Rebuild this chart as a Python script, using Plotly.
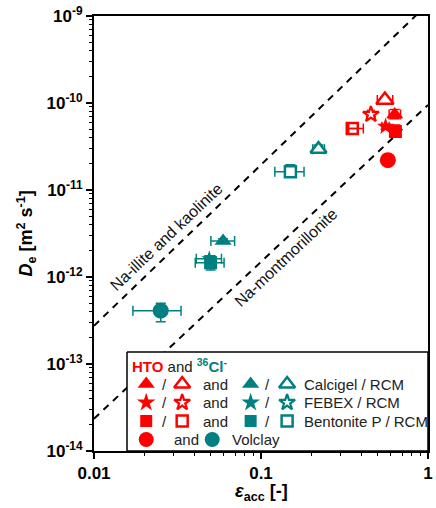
import plotly.graph_objects as go

RED = "#FF0000"
TEAL = "#008080"
FONT = "Liberation Sans, Arial, sans-serif"

# ---- data (eps_acc, De, eps_lo, eps_hi, De_lo, De_hi) ----
# HTO (red)
hto_calcigel_eps = [0.632];  hto_calcigel_De = [7.4e-11]
hto_calcigel_eps_lo = [0.585]; hto_calcigel_eps_hi = [0.685]
hto_calcigel_De_lo = [6.6e-11]; hto_calcigel_De_hi = [8.4e-11]

hto_calcigel_rcm_eps = [0.552]; hto_calcigel_rcm_De = [1.08e-10]
hto_calcigel_rcm_eps_lo = [0.497]; hto_calcigel_rcm_eps_hi = [0.615]
hto_calcigel_rcm_De_lo = [1.0e-10]; hto_calcigel_rcm_De_hi = [1.16e-10]

hto_febex_eps = [0.557]; hto_febex_De = [5.35e-11]
hto_febex_eps_lo = [0.53]; hto_febex_eps_hi = [0.585]
hto_febex_De_lo = [5.0e-11]; hto_febex_De_hi = [5.7e-11]

hto_febex_rcm_eps = [0.455]; hto_febex_rcm_De = [7.4e-11]
hto_febex_rcm_eps_lo = [0.435]; hto_febex_rcm_eps_hi = [0.475]
hto_febex_rcm_De_lo = [7.0e-11]; hto_febex_rcm_De_hi = [7.8e-11]

hto_bentp_eps = [0.638]; hto_bentp_De = [4.7e-11]
hto_bentp_eps_lo = [0.605]; hto_bentp_eps_hi = [0.672]
hto_bentp_De_lo = [4.1e-11]; hto_bentp_De_hi = [5.6e-11]

hto_bentp_rcm_eps = [0.352]; hto_bentp_rcm_De = [5.1e-11]
hto_bentp_rcm_eps_lo = [0.335]; hto_bentp_rcm_eps_hi = [0.41]
hto_bentp_rcm_De_lo = [5.1e-11]; hto_bentp_rcm_De_hi = [5.1e-11]

hto_volclay_eps = [0.575]; hto_volclay_De = [2.2e-11]
hto_volclay_eps_lo = [0.555]; hto_volclay_eps_hi = [0.595]
hto_volclay_De_lo = [2.05e-11]; hto_volclay_De_hi = [2.35e-11]

# 36Cl- (teal)
cl_calcigel_eps = [0.0593]; cl_calcigel_De = [2.6e-12]
cl_calcigel_eps_lo = [0.0501]; cl_calcigel_eps_hi = [0.0695]
cl_calcigel_De_lo = [2.45e-12]; cl_calcigel_De_hi = [2.75e-12]

cl_calcigel_rcm_eps = [0.221]; cl_calcigel_rcm_De = [2.95e-11]
cl_calcigel_rcm_eps_lo = [0.204]; cl_calcigel_rcm_eps_hi = [0.240]
cl_calcigel_rcm_De_lo = [2.65e-11]; cl_calcigel_rcm_De_hi = [3.3e-11]

cl_febex_eps = [0.049]; cl_febex_De = [1.62e-12]
cl_febex_eps_lo = [0.041]; cl_febex_eps_hi = [0.058]
cl_febex_De_lo = [1.55e-12]; cl_febex_De_hi = [1.75e-12]

cl_bentp_eps = [0.0499]; cl_bentp_De = [1.46e-12]
cl_bentp_eps_lo = [0.0404]; cl_bentp_eps_hi = [0.0601]
cl_bentp_De_lo = [1.2e-12]; cl_bentp_De_hi = [1.75e-12]

cl_bentp_rcm_eps = [0.150]; cl_bentp_rcm_De = [1.62e-11]
cl_bentp_rcm_eps_lo = [0.121]; cl_bentp_rcm_eps_hi = [0.181]
cl_bentp_rcm_De_lo = [1.45e-11]; cl_bentp_rcm_De_hi = [1.95e-11]

cl_volclay_eps = [0.0251]; cl_volclay_De = [4.1e-13]
cl_volclay_eps_lo = [0.0171]; cl_volclay_eps_hi = [0.0332]
cl_volclay_De_lo = [3.06e-13]; cl_volclay_De_hi = [5.0e-13]

# reference lines (end points)
line_eps = [0.01, 1.0]
illite_De = [2.75e-13, 1.38e-9]
montmor_De = [2.35e-14, 9.5e-11]

# axis ticks
y_major = [1e-14, 1e-13, 1e-12, 1e-11, 1e-10, 1e-9]
y_major_text = ["10<sup>-14</sup>", "10<sup>-13</sup>", "10<sup>-12</sup>",
                "10<sup>-11</sup>", "10<sup>-10</sup>", "10<sup>-9</sup>"]
x_major = [0.01, 0.1, 1]
x_major_text = ["0.01", "0.1", "1"]

fig = go.Figure()

# dashed lines
for De in (illite_De, montmor_De):
    fig.add_trace(go.Scatter(x=line_eps, y=De, mode="lines",
                             line=dict(color="black", width=2, dash="7px,6px"),
                             showlegend=False, hoverinfo="skip"))


def add_pt(eps, De, elo, ehi, dlo, dhi, symbol, color, size, open_=False, lw=2.5,
           white_fill=True):
    ex_p = [h - v for h, v in zip(ehi, eps)]
    ex_m = [v - l for l, v in zip(elo, eps)]
    ey_p = [h - v for h, v in zip(dhi, De)]
    ey_m = [v - l for l, v in zip(dlo, De)]
    if open_ and white_fill:
        marker = dict(symbol=symbol, size=size, color="white",
                      line=dict(color=color, width=lw))
    elif open_:
        marker = dict(symbol=symbol + "-open", size=size, color=color,
                      line=dict(color=color, width=lw))
    else:
        marker = dict(symbol=symbol, size=size, color=color, line=dict(width=0))
    fig.add_trace(go.Scatter(
        x=eps, y=De, mode="markers", marker=marker,
        error_x=dict(type="data", symmetric=False, array=ex_p, arrayminus=ex_m,
                     color=color, thickness=1.5, width=5),
        error_y=dict(type="data", symmetric=False, array=ey_p, arrayminus=ey_m,
                     color=color, thickness=1.5, width=5),
        showlegend=False))


# teal
add_pt(cl_volclay_eps, cl_volclay_De, cl_volclay_eps_lo, cl_volclay_eps_hi,
       cl_volclay_De_lo, cl_volclay_De_hi, "circle", TEAL, 16)
add_pt(cl_febex_eps, cl_febex_De, cl_febex_eps_lo, cl_febex_eps_hi,
       cl_febex_De_lo, cl_febex_De_hi, "star", TEAL, 12)
add_pt(cl_bentp_eps, cl_bentp_De, cl_bentp_eps_lo, cl_bentp_eps_hi,
       cl_bentp_De_lo, cl_bentp_De_hi, "square", TEAL, 13)
add_pt(cl_calcigel_eps, cl_calcigel_De, cl_calcigel_eps_lo, cl_calcigel_eps_hi,
       cl_calcigel_De_lo, cl_calcigel_De_hi, "triangle-up", TEAL, 15)
add_pt(cl_bentp_rcm_eps, cl_bentp_rcm_De, cl_bentp_rcm_eps_lo, cl_bentp_rcm_eps_hi,
       cl_bentp_rcm_De_lo, cl_bentp_rcm_De_hi, "square", TEAL, 11, True)
add_pt(cl_calcigel_rcm_eps, cl_calcigel_rcm_De, cl_calcigel_rcm_eps_lo, cl_calcigel_rcm_eps_hi,
       cl_calcigel_rcm_De_lo, cl_calcigel_rcm_De_hi, "triangle-up", TEAL, 14, True)
# red
add_pt(hto_volclay_eps, hto_volclay_De, hto_volclay_eps_lo, hto_volclay_eps_hi,
       hto_volclay_De_lo, hto_volclay_De_hi, "circle", RED, 16)
add_pt(hto_bentp_rcm_eps, hto_bentp_rcm_De, hto_bentp_rcm_eps_lo, hto_bentp_rcm_eps_hi,
       hto_bentp_rcm_De_lo, hto_bentp_rcm_De_hi, "square", RED, 11, True, 2.5, False)
add_pt(hto_febex_rcm_eps, hto_febex_rcm_De, hto_febex_rcm_eps_lo, hto_febex_rcm_eps_hi,
       hto_febex_rcm_De_lo, hto_febex_rcm_De_hi, "star", RED, 12, True, 2.2)
add_pt(hto_calcigel_rcm_eps, hto_calcigel_rcm_De, hto_calcigel_rcm_eps_lo, hto_calcigel_rcm_eps_hi,
       hto_calcigel_rcm_De_lo, hto_calcigel_rcm_De_hi, "triangle-up", RED, 15, True)
add_pt(hto_febex_eps, hto_febex_De, hto_febex_eps_lo, hto_febex_eps_hi,
       hto_febex_De_lo, hto_febex_De_hi, "star", RED, 13)
add_pt(hto_calcigel_eps, hto_calcigel_De, hto_calcigel_eps_lo, hto_calcigel_eps_hi,
       hto_calcigel_De_lo, hto_calcigel_De_hi, "triangle-up", RED, 15)
add_pt(hto_bentp_eps, hto_bentp_De, hto_bentp_eps_lo, hto_bentp_eps_hi,
       hto_bentp_De_lo, hto_bentp_De_hi, "square", RED, 13)

# ---- custom legend on an overlay pixel-like axis ----
L, R, T, B = 94, 433, 16, 451
box_x = [127.5, 433, 433, 127.5, 127.5]
box_y = [352, 352, 451, 451, 352]
fig.add_trace(go.Scatter(x=box_x, y=box_y, xaxis="x2", yaxis="y2", mode="lines",
                         fill="toself", fillcolor="white",
                         line=dict(color="black", width=1.5), showlegend=False,
                         hoverinfo="skip"))

rows_y = [384, 402.5, 421, 439.5]
row_syms = [("triangle-up", 15, 14, 2.5), ("star", 14, 12, 2.2), ("square", 12, 11, 2.5)]
row_labels = ["Calcigel / RCM", "FEBEX / RCM", "Bentonite P / RCM"]
for (sym, sz, osz, olw), ry, lab in zip(row_syms, rows_y[:3], row_labels):
    for xx, col, op in ((147, RED, False), (183.5, RED, True),
                        (253, TEAL, False), (290, TEAL, True)):
        fig.add_trace(go.Scatter(
            x=[xx], y=[ry], xaxis="x2", yaxis="y2", mode="markers",
            marker=dict(symbol=sym,
                        size=osz if op else sz,
                        color="white" if op else col,
                        line=dict(color=col, width=olw if op else 0)),
            showlegend=False, hoverinfo="skip"))
    for xx, txt, anchor in ((166, "/", "center"), (217, "and", "center"),
                            (270, "/", "center"), (305, lab, "left")):
        fig.add_annotation(x=xx, y=ry, xref="x2", yref="y2", text=txt,
                           showarrow=False, xanchor=anchor, yanchor="middle",
                           font=dict(family=FONT, size=15, color="#222"))
for xx, col in ((147, RED), (214, TEAL)):
    fig.add_trace(go.Scatter(x=[xx], y=[rows_y[3]], xaxis="x2", yaxis="y2",
                             mode="markers",
                             marker=dict(symbol="circle", size=15, color=col),
                             showlegend=False, hoverinfo="skip"))
fig.add_annotation(x=188, y=rows_y[3], xref="x2", yref="y2", text="and",
                   showarrow=False, xanchor="center", yanchor="middle",
                   font=dict(family=FONT, size=15, color="#222"))
fig.add_annotation(x=232, y=rows_y[3], xref="x2", yref="y2", text="Volclay",
                   showarrow=False, xanchor="left", yanchor="middle",
                   font=dict(family=FONT, size=15, color="#222"))
fig.add_annotation(
    x=131, y=365, xref="x2", yref="y2",
    text=f"<b><span style='color:{RED}'>HTO</span></b> and "
         f"<b><span style='color:{TEAL}'><sup>36</sup>Cl<sup>-</sup></span></b>",
    showarrow=False, xanchor="left", yanchor="middle",
    font=dict(family=FONT, size=15, color="#222"))

# line labels
fig.add_annotation(x=-1.566, y=-11.53, xref="x", yref="y",
                   text="Na-illite and kaolinite", textangle=-43.5,
                   showarrow=False, font=dict(family=FONT, size=16, color="#111"))
fig.add_annotation(x=-0.85, y=-11.78, xref="x", yref="y",
                   text="Na-montmorillonite", textangle=-43.5,
                   showarrow=False, font=dict(family=FONT, size=16, color="#111"))

# axis titles
fig.add_annotation(x=(25 - L) / (R - L), y=0.5, xref="paper", yref="paper",
                   text="<b><i>D</i><sub>e</sub> [m<sup>2</sup> s<sup>-1</sup>]</b>",
                   textangle=-90, showarrow=False, xanchor="center", yanchor="middle",
                   font=dict(family=FONT, size=18, color="black"))
fig.add_annotation(x=0.5, y=(B - 492) / (B - T), xref="paper", yref="paper",
                   text="<b><i>ε</i><sub>acc</sub> [-]</b>",
                   showarrow=False, xanchor="center", yanchor="middle",
                   font=dict(family=FONT, size=18, color="black"))

minor_x = [m * 10 ** e for e in (-2, -1) for m in range(2, 10)]
minor_y = [m * 10 ** e for e in range(-14, -9) for m in range(2, 10)]

axis_common = dict(type="log", showgrid=False, zeroline=False,
                   showline=True, linecolor="black", linewidth=2, mirror=True,
                   ticks="outside", ticklen=6, tickwidth=1.5, tickcolor="black",
                   tickfont=dict(family=FONT, size=17, color="black", weight="bold"))

fig.update_layout(
    width=436, height=508,
    margin=dict(l=L, r=436 - R, t=T, b=508 - B),
    paper_bgcolor="white", plot_bgcolor="white",
    showlegend=False,
    xaxis=dict(**axis_common, range=[-2, 0], tickmode="array",
               tickvals=x_major, ticktext=x_major_text,
               minor=dict(tickmode="array", tickvals=minor_x, ticks="outside",
                          ticklen=3, tickwidth=1.2, tickcolor="black", showgrid=False)),
    yaxis=dict(**axis_common, range=[-14, -9], tickmode="array",
               tickvals=y_major, ticktext=y_major_text,
               minor=dict(tickmode="array", tickvals=minor_y, ticks="outside",
                          ticklen=3, tickwidth=1.2, tickcolor="black", showgrid=False)),
    xaxis2=dict(overlaying="x", anchor="y2", range=[L, R], visible=False,
                fixedrange=True),
    yaxis2=dict(overlaying="y", anchor="x2", range=[B, T], visible=False,
                fixedrange=True),
)

fig.write_html("out.html")
